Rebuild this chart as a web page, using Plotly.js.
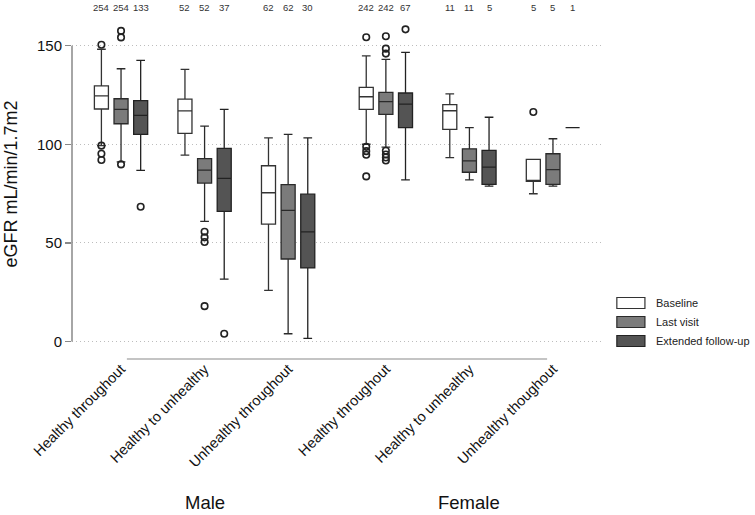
<!DOCTYPE html>
<html>
<head>
<meta charset="utf-8">
<script src="https://cdn.plot.ly/plotly-3.0.1.min.js"></script>
<style>html,body{margin:0;padding:0;background:#fff}#chart{width:755px;height:515px}</style>
</head>
<body>
<div id="chart"></div>
<script>
// ---- data ----
const categories = ['Healthy throughout','Healthy to unhealthy','Unhealthy throughout','Healthy throughout','Healthy to unhealthy','Unhealthy thoughout'];
const sexLabels = ['Male','Female'];
const seriesNames = ['Baseline','Last visit','Extended follow-up'];

const baselineN = [254, 52, 62, 242, 11, 5];
const lastVisitN = [254, 52, 62, 242, 11, 5];
const extendedN = [133, 37, 30, 67, 5, 1];

const baselineQ1 = [117.9, 105.5, 59.5, 117.7, 107.6, 81.2];
const baselineMedian = [124.5, 116.9, 75.4, 124.1, 117.0, 81.2];
const baselineQ3 = [129.6, 122.9, 89.1, 128.9, 120.1, 92.3];
const baselineLow = [99.3, 94.5, 25.9, 100.0, 93.2, 74.9];
const baselineHigh = [148.2, 138.0, 103.2, 144.8, 125.6, 92.3];
const baselineOutliers = [[150.5, 99.3, 95.2, 92.0], [], [], [154.3, 98.7, 96.5, 94.7, 83.7], [], [116.4]];

const lastVisitQ1 = [110.4, 80.3, 41.8, 115.2, 85.8, 79.7];
const lastVisitMedian = [117.7, 86.9, 66.5, 121.6, 91.6, 87.1];
const lastVisitQ3 = [123.1, 92.7, 79.5, 126.3, 97.7, 95.2];
const lastVisitLow = [91.1, 60.9, 3.9, 98.6, 81.9, 78.8];
const lastVisitHigh = [138.3, 109.2, 105.0, 143.1, 108.4, 102.8];
const lastVisitOutliers = [[157.5, 154.2, 89.8], [55.6, 52.8, 50.4, 17.9], [], [154.8, 148.5, 146.0, 96.7, 94.8, 93.3, 91.8], [], []];

const extendedQ1 = [105.0, 66.0, 37.3, 108.4, 79.7, 108.4];
const extendedMedian = [114.7, 82.7, 55.6, 120.4, 88.4, 108.4];
const extendedQ3 = [122.1, 97.9, 74.7, 126.0, 96.9, 108.4];
const extendedLow = [86.8, 31.6, 1.5, 81.9, 78.8, 108.4];
const extendedHigh = [142.6, 117.7, 103.2, 146.6, 113.7, 108.4];
const extendedOutliers = [[68.3], [3.9], [], [158.3], [], []];

const yTicks = [0, 50, 100, 150];

// ---- layout helpers ----
const FONT = 'Liberation Sans, Arial, Helvetica, sans-serif';
const groupGap = 0.17;
const positions = categories.map((c, i) => i + (i >= 3 ? groupGap : 0));
const offsets = [-0.235, 0, 0.235];
const boxW = 0.168;

const series = [
  {name: seriesNames[0], n: baselineN, q1: baselineQ1, med: baselineMedian, q3: baselineQ3, lo: baselineLow, hi: baselineHigh, out: baselineOutliers, fill: '#ffffff', line: '#333333'},
  {name: seriesNames[1], n: lastVisitN, q1: lastVisitQ1, med: lastVisitMedian, q3: lastVisitQ3, lo: lastVisitLow, hi: lastVisitHigh, out: lastVisitOutliers, fill: '#7b7b7b', line: '#2a2a2a'},
  {name: seriesNames[2], n: extendedN, q1: extendedQ1, med: extendedMedian, q3: extendedQ3, lo: extendedLow, hi: extendedHigh, out: extendedOutliers, fill: '#545454', line: '#222222'}
];

const traces = [];
const annotations = [];
const shapes = [];

series.forEach((s, k) => {
  const xs = positions.map(p => p + offsets[k]);
  traces.push({
    type: 'box', name: s.name, x: xs,
    q1: s.q1, median: s.med, q3: s.q3, lowerfence: s.lo, upperfence: s.hi,
    width: boxW, whiskerwidth: 0.62, boxpoints: false,
    fillcolor: s.fill, line: {color: s.line, width: 1.3},
    showlegend: false, hoverinfo: 'skip'
  });
  const ox = [], oy = [];
  s.out.forEach((vals, g) => vals.forEach(v => { ox.push(xs[g]); oy.push(v); }));
  traces.push({
    type: 'scatter', mode: 'markers', x: ox, y: oy, cliponaxis: false,
    marker: {symbol: 'circle-open', size: 6.5, color: '#222', line: {width: 1.6, color: '#222'}},
    showlegend: false, hoverinfo: 'skip'
  });
  s.n.forEach((n, g) => annotations.push({
    x: xs[g], y: 1.0566, xref: 'x', yref: 'paper', text: String(n), showarrow: false,
    font: {family: FONT, size: 9.5, color: '#333'}, xanchor: 'center', yanchor: 'middle'
  }));
  // legend swatch
  const ly = [0.1258, 0.0660, 0.0063][k];
  shapes.push({type: 'rect', xref: 'paper', yref: 'paper', x0: 1.028, x1: 1.081, y0: ly - 0.0173, y1: ly + 0.0173,
    fillcolor: s.fill, line: {color: s.line, width: 1.2}});
  annotations.push({x: 1.098, y: ly, xref: 'paper', yref: 'paper', text: s.name, showarrow: false,
    xanchor: 'left', yanchor: 'middle', font: {family: FONT, size: 11, color: '#222'}});
});

// group labels
annotations.push({x: positions[1], y: -0.503, xref: 'x', yref: 'paper', text: sexLabels[0], showarrow: false,
  font: {family: FONT, size: 18.5, color: '#111'}, xanchor: 'center', yanchor: 'middle'});
annotations.push({x: positions[4], y: -0.503, xref: 'x', yref: 'paper', text: sexLabels[1], showarrow: false,
  font: {family: FONT, size: 18.5, color: '#111'}, xanchor: 'center', yanchor: 'middle'});

// category axis baseline
shapes.push({type: 'line', xref: 'x', yref: 'paper', x0: positions[0] + 0.07, x1: positions[5] - 0.07,
  y0: -0.0503, y1: -0.0503, line: {color: '#b0b0b0', width: 1.5}});
// value axis line, spanning the tick range only
shapes.push({type: 'line', xref: 'paper', yref: 'y', x0: 0, x1: 0, y0: yTicks[0], y1: yTicks[yTicks.length - 1],
  line: {color: '#888', width: 1.5}});

const layout = {
  width: 755, height: 515,
  margin: {l: 72, r: 153, t: 25, b: 172},
  paper_bgcolor: '#fff', plot_bgcolor: '#fff',
  font: {family: FONT, color: '#111'},
  showlegend: false,
  xaxis: {
    type: 'linear', range: [-0.587, 5.757], tickvals: positions, ticktext: categories,
    tickangle: -45, ticks: 'outside', ticklen: 11, tickcolor: 'rgba(0,0,0,0)',
    tickfont: {family: FONT, size: 14.5, color: '#111'},
    showgrid: false, zeroline: false, showline: false, fixedrange: true
  },
  yaxis: {
    range: [-0.8, 160.5], tickvals: yTicks, ticks: 'outside', ticklen: 6, tickcolor: '#888', tickwidth: 1.3,
    showline: false,
    showgrid: true, gridcolor: '#bdbdbd', griddash: '1px,3px', gridwidth: 1, zeroline: false,
    tickfont: {family: FONT, size: 15, color: '#111'},
    title: {text: 'eGFR mL/min/1.7m2', font: {family: FONT, size: 18, color: '#111'}, standoff: 14},
    automargin: false, fixedrange: true
  },
  annotations: annotations,
  shapes: shapes
};

Plotly.newPlot('chart', traces, layout, {displayModeBar: false, staticPlot: true});
</script>
</body>
</html>
